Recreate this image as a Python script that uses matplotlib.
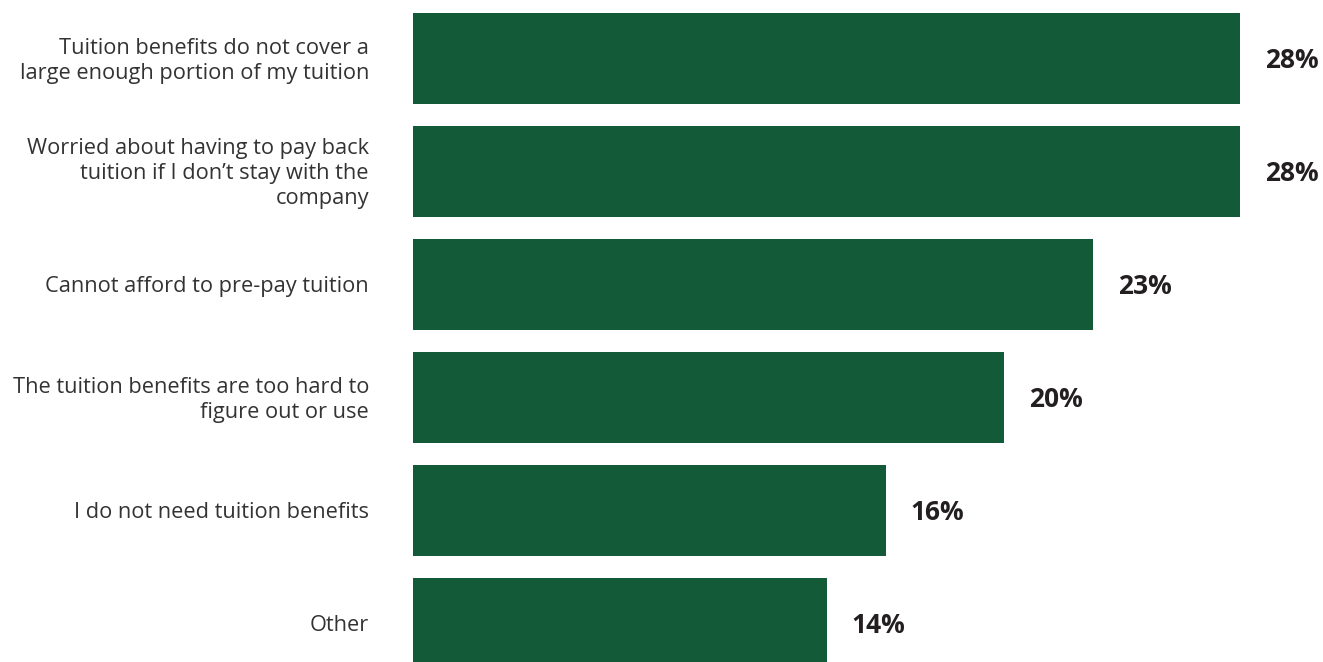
import matplotlib.pyplot as plt

plt.rcParams['font.family'] = ['Open Sans', 'DejaVu Sans']

reasons = [
    "Tuition benefits do not cover a\nlarge enough portion of my tuition",
    "Worried about having to pay back\ntuition if I don\u2019t stay with the\ncompany",
    "Cannot afford to pre-pay tuition",
    "The tuition benefits are too hard to\nfigure out or use",
    "I do not need tuition benefits",
    "Other",
]
shares = [28, 28, 23, 20, 16, 14]

green = '#135B38'

fig = plt.figure(figsize=(13.23, 6.62), dpi=100)
ax = fig.add_axes([413 / 1323, 0, 1 - 413 / 1323, 1])

pos = list(range(len(reasons)))
ax.barh(pos, shares, height=0.805, color=green)
ax.set_xlim(0, 30.8)
ax.set_ylim(5.341, -0.518)

for i, (r, v) in enumerate(zip(reasons, shares)):
    ax.text(v + 0.85, i + 0.02, f"{v}%", va='center', ha='left',
            fontsize=19, fontweight='bold', color='#231F20')
    ax.text(-1.49, i + 0.02, r, va='center', ha='right', multialignment='right',
            fontsize=15.7, color='#333333', linespacing=1.25)

ax.axis('off')
fig.savefig('out.png', dpi=100)
